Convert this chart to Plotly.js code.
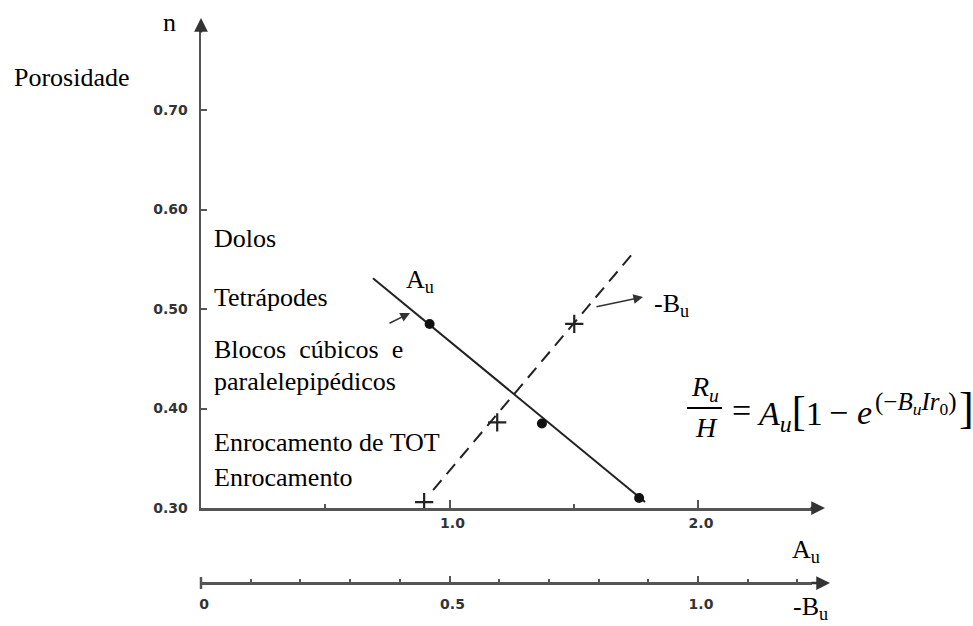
<!DOCTYPE html>
<html><head><meta charset="utf-8">
<script src="https://cdn.plot.ly/plotly-3.0.1.min.js"></script>
<style>html,body{margin:0;padding:0;background:#fff}#chart{width:973px;height:626px}</style>
</head><body><div id="chart"></div>
<script>
// ---- data ----
const auX = [0.92, 1.372, 1.763];          // A_u measured points
const auN = [0.485, 0.385, 0.310];
const auLineX = [0.692, 1.787];            // A_u fitted line
const auLineN = [0.531, 0.306];
const buX = [0.449, 0.596, 0.751];         // -B_u measured points
const buN = [0.306, 0.386, 0.485];
const buLineX = [0.467, 0.869];            // -B_u fitted line
const buLineN = [0.318, 0.556];
const yTicks = [0.30, 0.40, 0.50, 0.60, 0.70];
const yTickText = ['0.30', '0.40', '0.50', '0.60', '0.70'];
const auTicks = [1.0, 2.0];
const auTickText = ['1.0', '2.0'];
const auMinor = [0.5, 1.5];
const buTicks = [0, 0.5, 1.0];
const buTickText = ['0', '0.5', '1.0'];
const materials = ['Dolos', 'Tetrápodes', 'Blocos\u00a0\u00a0cúbicos\u00a0\u00a0e', 'paralelepipédicos', 'Enrocamento de TOT', 'Enrocamento'];

// ---- layout helpers (pixel -> paper) ----
const W = 973, H = 626;
const px = x => x / W;
const py = y => (H - y) / H;
const serif = 'Liberation Serif, Times New Roman, serif';
const tickFont = {family: 'DejaVu Sans', size: 14, color: '#333', weight: 'bold'};
const axisCol = '#555';

const traces = [
  {x: auLineX, y: auLineN, mode: 'lines', line: {color: '#222', width: 2}, xaxis: 'x', yaxis: 'y', hoverinfo: 'skip'},
  {x: auX, y: auN, mode: 'markers', marker: {color: '#111', size: 10, symbol: 'circle'}, xaxis: 'x', yaxis: 'y'},
  {x: buLineX, y: buLineN, mode: 'lines', line: {color: '#222', width: 2, dash: '13px,8px'}, xaxis: 'x2', yaxis: 'y', hoverinfo: 'skip'},
  {x: buX, y: buN, mode: 'markers', marker: {color: '#222', size: 13, symbol: 'cross-thin', line: {color: '#222', width: 2.2}}, xaxis: 'x2', yaxis: 'y'}
];

const matY = [238, 297, 349, 381, 443, 477];
const annotations = materials.map((t, i) => ({
  xref: 'paper', yref: 'paper', x: px(212), y: py(matY[i]), xanchor: 'left', yanchor: 'middle',
  text: t, showarrow: false, font: {family: serif, size: 26, color: '#000'}
}));

function txt(t, x, y, size, xa, extra) {
  return Object.assign({xref: 'paper', yref: 'paper', x: px(x), y: py(y), xanchor: xa || 'center', yanchor: 'middle',
    text: t, showarrow: false, font: {family: serif, size: size, color: '#000'}}, extra || {});
}
function arrow(x, y, ax, ay, w, size) {
  return {xref: 'paper', yref: 'paper', x: px(x), y: py(y), ax: ax, ay: ay, text: '', showarrow: true,
    arrowhead: 2, arrowsize: size, arrowwidth: w, arrowcolor: '#333'};
}

annotations.push(
  txt('n', 169, 22, 26),
  txt('Porosidade', 12, 78, 26, 'left'),
  txt('A<sub>u</sub>', 420, 281, 26),
  txt('-B<sub>u</sub>', 652, 305, 26, 'left'),
  txt('A<sub>u</sub>', 806, 551, 26),
  txt('-B<sub>u</sub>', 810, 608, 26),
  // formula
  txt('<i>R</i><sub><i>u</i></sub>', 705, 388, 28),
  txt('<i>H</i>', 706, 427, 28),
  txt('=', 741, 411, 34),
  txt('<i>A</i><sub><i>u</i></sub><span style="font-size:42px">[</span>1', 755, 412, 34, 'left'),
  txt('−', 838, 412, 34),
  txt('<i>e</i>', 864, 412, 34),
  txt('(−<i>B</i><sub><i>u</i></sub><i>Ir</i><sub>0</sub>)', 873, 403, 25, 'left'),
  txt(']', 966, 408, 44),
  // axis arrowheads
  arrow(201, 18, 0, 16, 2.5, 1.1),
  arrow(825, 508, -16, 0, 2.5, 1.1),
  arrow(830, 583, -20, 0, 2.5, 1.1),
  // pointers
  arrow(410, 313, -22, 11, 1.6, 1.2),
  arrow(643, 297, -48, 10, 1.6, 1.2)
);

const shapes = [
  {type: 'line', xref: 'paper', yref: 'paper', x0: px(687), x1: px(722), y0: py(408), y1: py(408), line: {color: '#000', width: 2}},
  {type: 'line', xref: 'paper', yref: 'paper', x0: px(201), x1: px(201), y0: py(577), y1: py(589), line: {color: axisCol, width: 2.5}}
];

const layout = {
  width: W, height: H, margin: {l: 0, r: 0, t: 0, b: 0},
  paper_bgcolor: '#fff', plot_bgcolor: 'rgba(0,0,0,0)', showlegend: false,
  xaxis: {
    domain: [px(201), px(812)], range: [0, (812 - 201) / 248.5], anchor: 'y',
    showline: true, linecolor: axisCol, linewidth: 2.5, showgrid: false, zeroline: false,
    tickmode: 'array', tickvals: auTicks, ticktext: auTickText, ticks: 'inside', ticklen: 8, tickwidth: 2, tickcolor: axisCol,
    tickfont: tickFont, ticklabelstandoff: 1, ticklabelshift: 3,
    minor: {tickmode: 'array', tickvals: auMinor, ticks: 'inside', ticklen: 4, tickwidth: 2, tickcolor: axisCol, showgrid: false},
    fixedrange: true
  },
  xaxis2: {
    overlaying: 'x', anchor: 'free', position: py(583), range: [0, (812 - 201) / 497],
    showline: true, linecolor: axisCol, linewidth: 2.5, showgrid: false, zeroline: false,
    tickmode: 'array', tickvals: buTicks, ticktext: buTickText, ticks: 'inside', ticklen: 6, tickwidth: 2, tickcolor: axisCol,
    tickfont: tickFont, ticklabelstandoff: 8, ticklabelshift: 3,
    minor: {dtick: 0.1, tick0: 0, ticks: 'inside', ticklen: 3, tickwidth: 2, tickcolor: axisCol, showgrid: false},
    fixedrange: true
  },
  yaxis: {
    domain: [py(508), py(28)], range: [0.30, 0.30 + (508 - 28) / 995], anchor: 'x',
    showline: true, linecolor: axisCol, linewidth: 2.5, showgrid: false, zeroline: false,
    tickmode: 'array', tickvals: yTicks, ticktext: yTickText, ticks: 'inside', ticklen: 6, tickwidth: 2, tickcolor: axisCol,
    tickfont: tickFont, ticklabelstandoff: 8,
    fixedrange: true
  },
  annotations: annotations,
  shapes: shapes
};

Plotly.newPlot('chart', traces, layout, {displayModeBar: false, staticPlot: true});
</script>
</body></html>
